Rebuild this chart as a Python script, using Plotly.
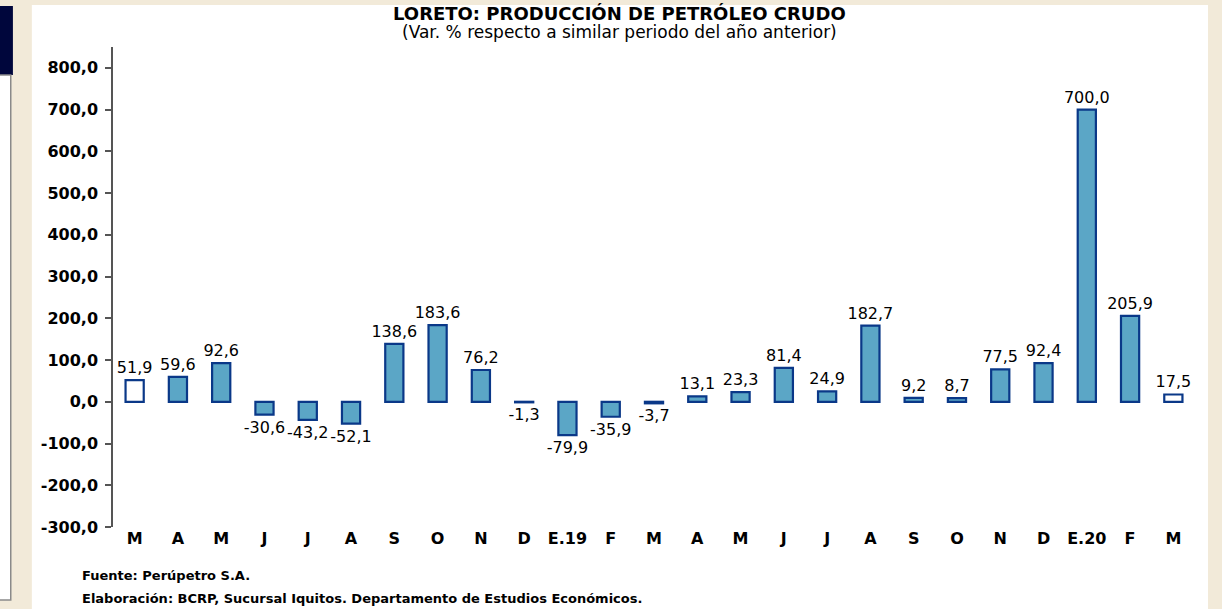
import plotly.graph_objects as go

# months, March 2019 ... March 2020 (plus the year before)
meses = ["M", "A", "M", "J", "J", "A", "S", "O", "N", "D", "E.19", "F", "M",
         "A", "M", "J", "J", "A", "S", "O", "N", "D", "E.20", "F", "M"]
var_pct = [51.9, 59.6, 92.6, -30.6, -43.2, -52.1, 138.6, 183.6, 76.2, -1.3,
           -79.9, -35.9, -3.7, 13.1, 23.3, 81.4, 24.9, 182.7, 9.2, 8.7,
           77.5, 92.4, 700.0, 205.9, 17.5]
# bars drawn hollow (white fill)
hueco = [0, 24]
y_ticks = [-300, -200, -100, 0, 100, 200, 300, 400, 500, 600, 700, 800]

FILL = "#5ba6c6"
EDGE = "#0a3888"
CREAM = "#f2ead9"
FONT = "DejaVu Sans, Arial, sans-serif"

y_rng = [-300, 850]
zero_pos = (0 - y_rng[0]) / (y_rng[1] - y_rng[0])

xs = list(range(len(meses)))
colores = ["white" if i in hueco else FILL for i in xs]

fig = go.Figure()
fig.add_trace(go.Bar(
    x=xs, y=var_pct, xaxis="x2",
    marker=dict(color=colores, line=dict(color=EDGE, width=2.2)),
    width=0.42,
    texttemplate="%{y:.1f}", textposition="outside", constraintext="none",
    textfont=dict(family=FONT, size=16, color="black"),
    cliponaxis=False, showlegend=False, hoverinfo="skip",
))

fig.update_layout(
    width=1222, height=609,
    margin=dict(l=113, r=27, t=47, b=82),
    paper_bgcolor=CREAM, plot_bgcolor="white",
    separators=",.",
    font=dict(family=FONT, color="black"),
    # zero line with boundary ticks
    xaxis=dict(
        range=[-0.5, len(meses) - 0.5], anchor="free", position=zero_pos,
        showline=True, linecolor="#555555", linewidth=1.5,
        tickvals=[i + 0.5 for i in xs], ticks="outside", ticklen=5,
        tickcolor="#555555", tickwidth=1.5, showticklabels=False,
        showgrid=False, zeroline=False, fixedrange=True,
    ),
    # month labels at the bottom
    xaxis2=dict(
        range=[-0.5, len(meses) - 0.5], overlaying="x", anchor="y", side="bottom",
        tickvals=xs, ticktext=["<b>%s</b>" % m for m in meses],
        tickfont=dict(family=FONT, size=16, color="black"),
        ticks="", showline=False, showgrid=False, zeroline=False,
    ),
    yaxis=dict(
        range=y_rng, tickvals=y_ticks,
        ticktext=["<b>%s</b>" % f"{v:.1f}".replace(".", ",") for v in y_ticks],
        tickfont=dict(family=FONT, size=16, color="black"),
        showline=True, linecolor="#555555", linewidth=1.5,
        ticks="outside", ticklen=6, tickcolor="#555555", tickwidth=1.5,
        ticklabelstandoff=4,
        showgrid=False, zeroline=False,
    ),
    bargap=0.58,
)

# page furniture: white sheet, navy tab and side panel
fig.add_shape(type="rect", xref="paper", yref="paper", x0=-0.075, x1=1.012,
              y0=-0.25, y1=1.0875, fillcolor="white", line_width=0, layer="below")
fig.add_shape(type="rect", xref="paper", yref="paper", x0=-0.11, x1=-0.0925,
              y0=0.9417, y1=1.0854, fillcolor="#00063c", line_width=0, layer="below")
fig.add_shape(type="rect", xref="paper", yref="paper", x0=-0.11, x1=-0.0945,
              y0=-0.152, y1=0.9417, fillcolor="white",
              line=dict(color="#8a8a8a", width=1.5), layer="below")

fig.add_annotation(text="<b>LORETO: PRODUCCIÓN DE PETRÓLEO CRUDO</b>",
                   xref="paper", yref="paper", x=0.468, y=1.069, yanchor="middle",
                   showarrow=False, font=dict(size=18, color="black"))
fig.add_annotation(text="(Var. % respecto a similar periodo del año anterior)",
                   xref="paper", yref="paper", x=0.468, y=1.031, yanchor="middle",
                   showarrow=False, font=dict(size=17, color="black"))
fig.add_annotation(text="<b>Fuente: Perúpetro S.A.</b>",
                   xref="paper", yref="paper", x=-0.0305, y=-0.102,
                   xanchor="left", yanchor="middle",
                   showarrow=False, font=dict(size=13, color="black"))
fig.add_annotation(text="<b>Elaboración: BCRP, Sucursal Iquitos. Departamento de Estudios Económicos.</b>",
                   xref="paper", yref="paper", x=-0.0305, y=-0.148,
                   xanchor="left", yanchor="middle",
                   showarrow=False, font=dict(size=13, color="black"))

fig.write_html("out.html", config={"displayModeBar": False},
               post_script="document.body.style.margin='0';")
